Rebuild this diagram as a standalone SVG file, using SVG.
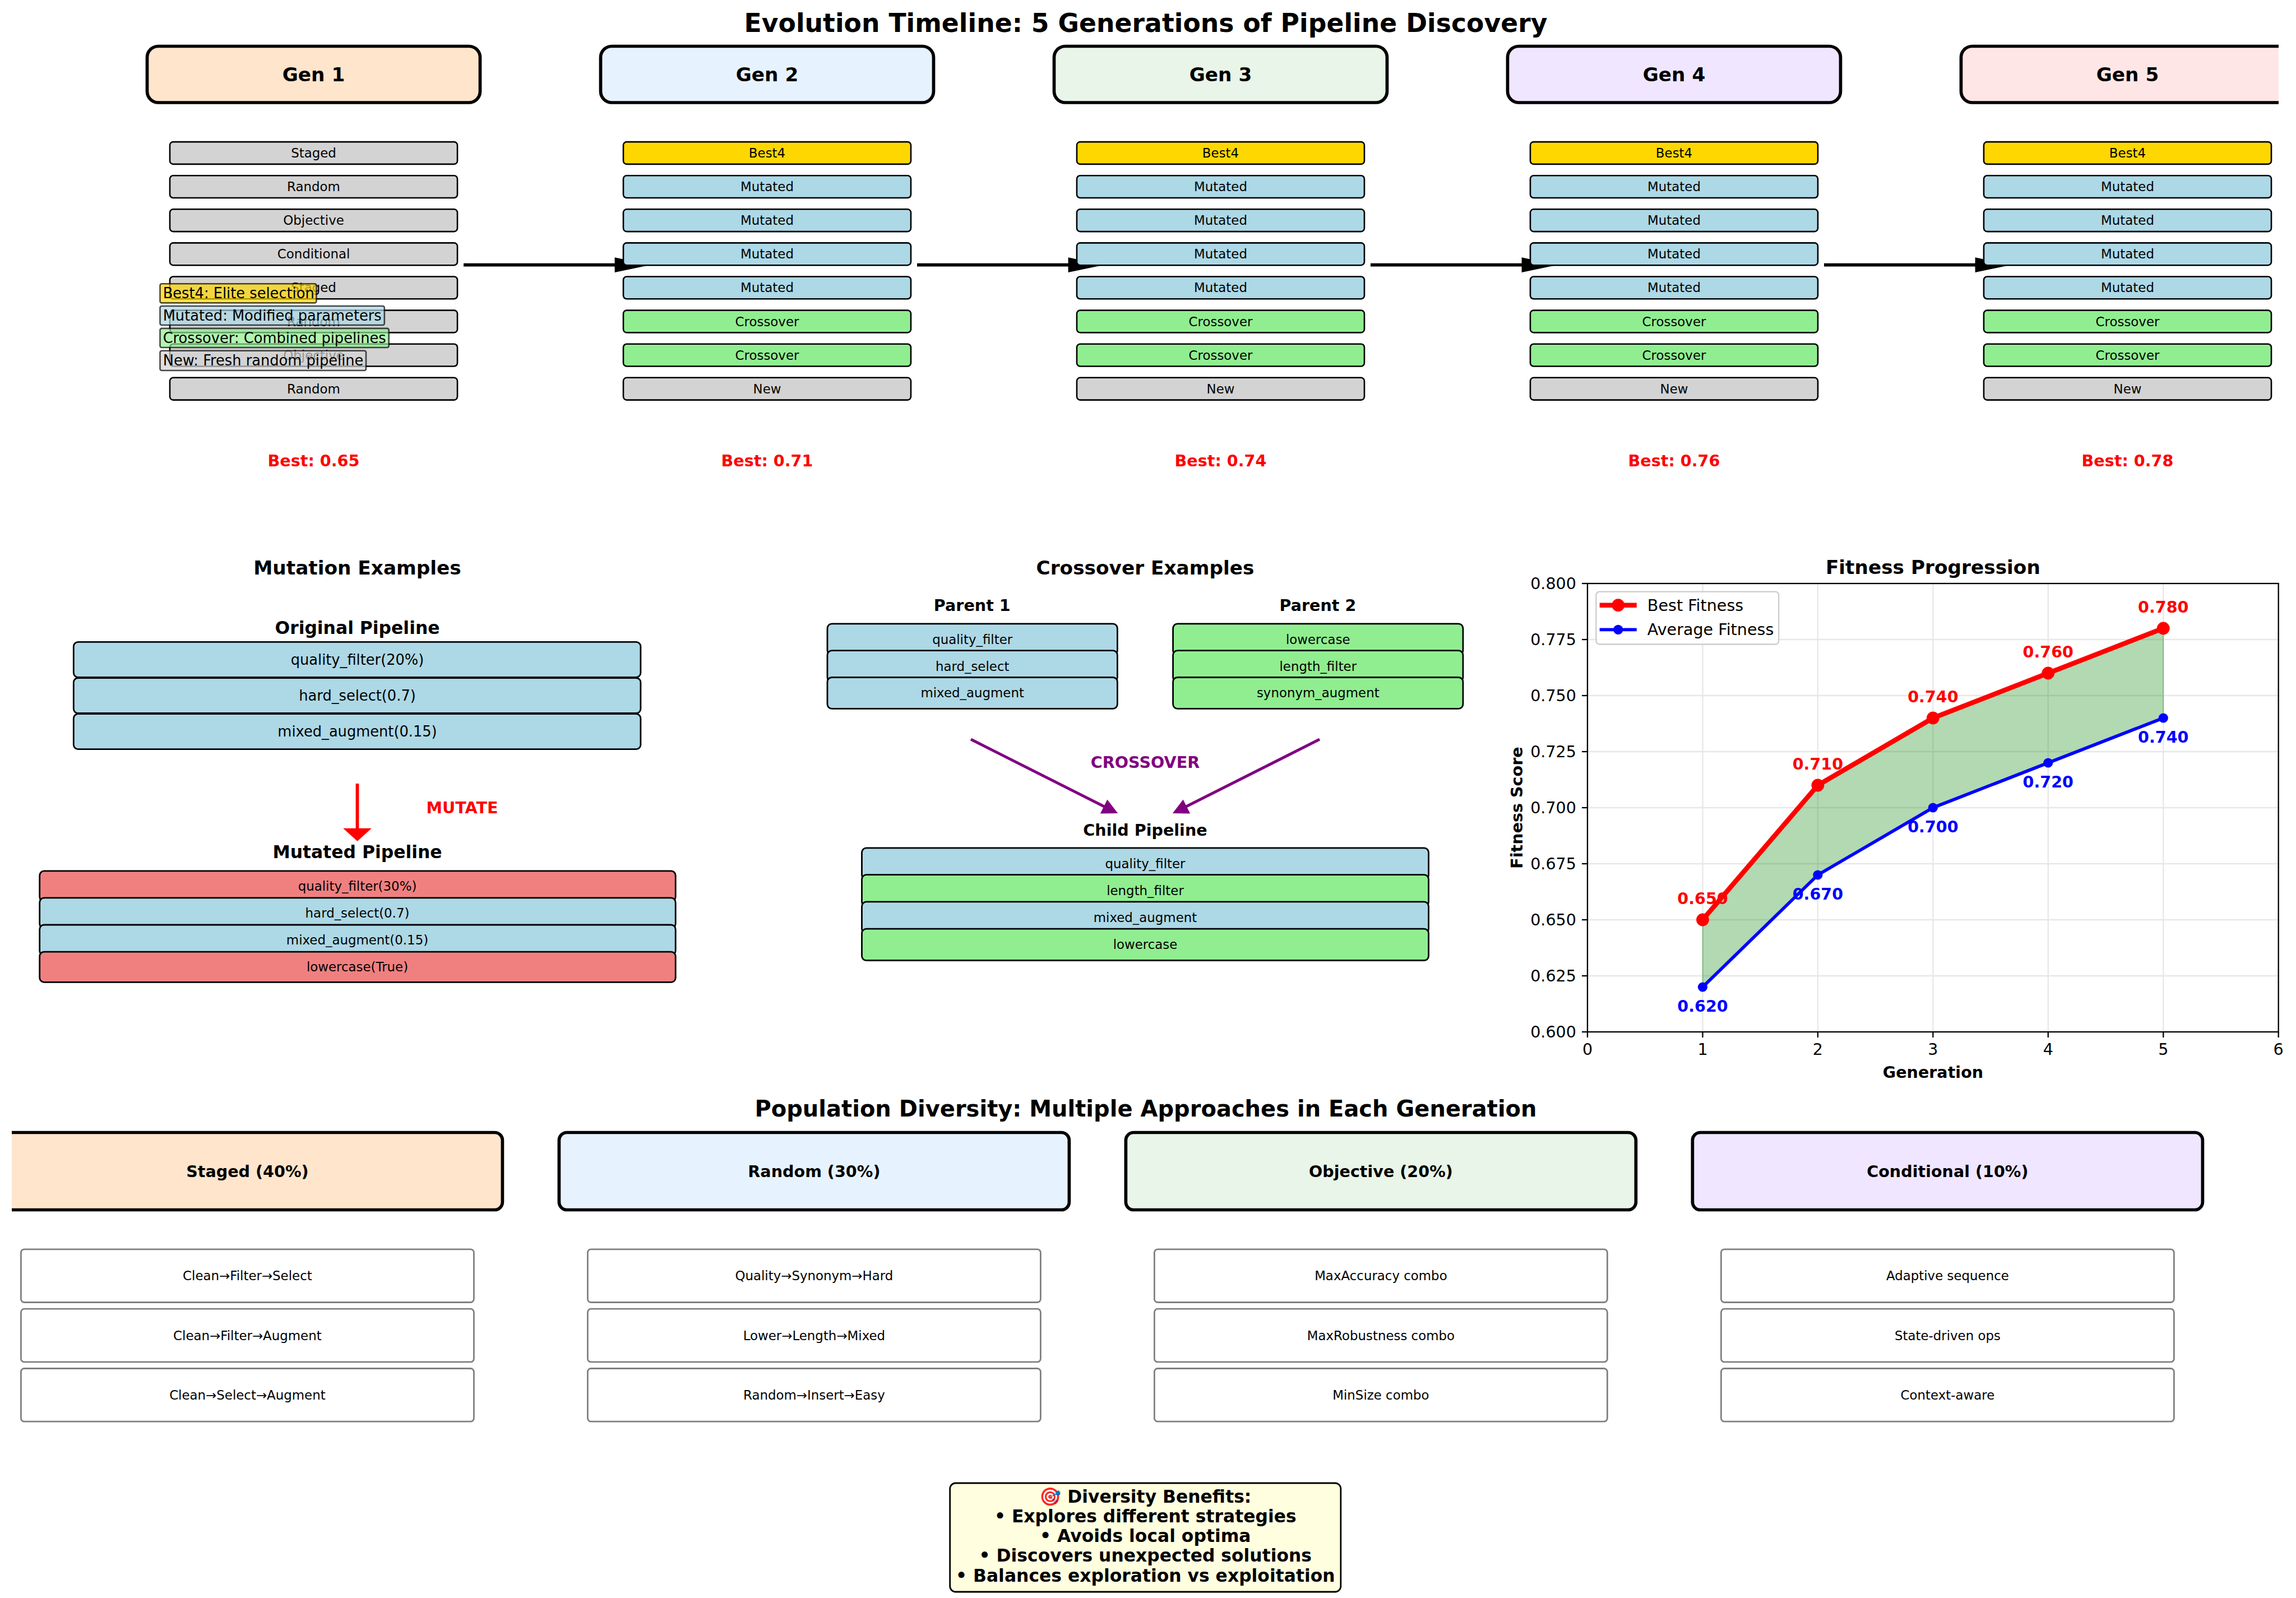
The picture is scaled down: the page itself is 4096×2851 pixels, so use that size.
<svg xmlns="http://www.w3.org/2000/svg" width="4096" height="2851" viewBox="0 0 4096 2851">
<style>
text{font-family:"DejaVu Sans","Liberation Sans",sans-serif;text-anchor:middle}
.c{dominant-baseline:central}
.b{font-weight:bold}
.gen{stroke:#000;stroke-width:5.7}
.it{stroke:#000;stroke-width:2.6}
.pb{stroke:#000;stroke-width:2.8}
.wi{fill:#fff;stroke:#808080;stroke-width:2.8}
.gray{fill:#D3D3D3}.gold{fill:#FFD700}.lb{fill:#ADD8E6}.lg{fill:#90EE90}.lc{fill:#F08080}
.s8{font-size:22.9px}.s9{font-size:25.7px}.s10{font-size:28.6px}.s11{font-size:31.4px}.s12{font-size:34.3px}
.grid{stroke:#e7e7e7;stroke-width:2.3}
</style>
<defs>
<clipPath id="topclip"><rect x="0" y="0" width="4065" height="960"/></clipPath>
<clipPath id="botclip"><rect x="21" y="1940" width="4075" height="911"/></clipPath>
</defs>
<rect width="4096" height="2851" fill="#fff"/>

<text id="main-title" class="b" x="2044" y="57" font-size="45.7">Evolution Timeline: 5 Generations of Pipeline Discovery</text>

<!-- connectors -->
<g id="connectors">
<g id="gen-arrows" fill="#000">
<line x1="827" y1="472.7" x2="1100" y2="472.7" stroke="#000" stroke-width="5.7"/>
<polygon points="1096.6,459.3 1160,472.7 1096.6,486.1"/>
<line x1="1636" y1="472.7" x2="1909" y2="472.7" stroke="#000" stroke-width="5.7"/>
<polygon points="1905.6,459.3 1969,472.7 1905.6,486.1"/>
<line x1="2445" y1="472.7" x2="2718" y2="472.7" stroke="#000" stroke-width="5.7"/>
<polygon points="2714.6,459.3 2778,472.7 2714.6,486.1"/>
<line x1="3254" y1="472.7" x2="3527" y2="472.7" stroke="#000" stroke-width="5.7"/>
<polygon points="3523.6,459.3 3587,472.7 3523.6,486.1"/>
</g>
<g id="mutate-arrow">
<line x1="637.5" y1="1398" x2="637.5" y2="1480" stroke="#FF0000" stroke-width="5.8"/>
<polygon points="612.1,1477.8 662.9,1477.8 637.5,1500.7" fill="#FF0000"/>
</g>
<g id="crossover-arrows" fill="#800080">
<line x1="1732" y1="1319.1" x2="1970" y2="1439" stroke="#800080" stroke-width="5"/>
<polygon points="1994.2,1451 1962.9,1451.4 1975.4,1426.4"/>
<line x1="2354.1" y1="1319.1" x2="2116" y2="1439" stroke="#800080" stroke-width="5"/>
<polygon points="2091.9,1451 2123.2,1451.4 2110.7,1426.4"/>
</g>
</g>

<!-- Generation columns -->
<g clip-path="url(#topclip)">
<g id="gen1">
<rect class="gen" x="262.5" y="82.5" width="594" height="100.5" rx="20" fill="#FFE5CC"/>
<text class="b c" x="559.5" y="132.7" font-size="34.3">Gen 1</text>
<rect class="it gray" x="303" y="253.1" width="513" height="39.8" rx="6"/><text class="c s8" x="559.5" y="273">Staged</text>
<rect class="it gray" x="303" y="313.2" width="513" height="39.8" rx="6"/><text class="c s8" x="559.5" y="333.1">Random</text>
<rect class="it gray" x="303" y="373.3" width="513" height="39.8" rx="6"/><text class="c s8" x="559.5" y="393.2">Objective</text>
<rect class="it gray" x="303" y="433.4" width="513" height="39.8" rx="6"/><text class="c s8" x="559.5" y="453.3">Conditional</text>
<rect class="it gray" x="303" y="493.5" width="513" height="39.8" rx="6"/><text class="c s8" x="559.5" y="513.4">Staged</text>
<rect class="it gray" x="303" y="553.6" width="513" height="39.8" rx="6"/><text class="c s8" x="559.5" y="573.5">Random</text>
<rect class="it gray" x="303" y="613.7" width="513" height="39.8" rx="6"/><text class="c s8" x="559.5" y="633.6">Objective</text>
<rect class="it gray" x="303" y="673.8" width="513" height="39.8" rx="6"/><text class="c s8" x="559.5" y="693.7">Random</text>
<text class="b c s10" x="559.5" y="822" fill="#FF0000">Best: 0.65</text>
</g>
<g id="gen-legend" style="text-anchor:start">
<rect x="285.5" y="506.2" width="278.9" height="34.2" rx="3" fill="#FFD700" fill-opacity="0.7" stroke="#000" stroke-opacity="0.7" stroke-width="2.6"/>
<text class="c s9" x="290.7" y="523.3" style="text-anchor:start">Best4: Elite selection</text>
<rect x="285.5" y="546" width="400.3" height="34" rx="3" fill="#ADD8E6" fill-opacity="0.7" stroke="#000" stroke-opacity="0.7" stroke-width="2.6"/>
<text class="c s9" x="290.7" y="563" style="text-anchor:start">Mutated: Modified parameters</text>
<rect x="285.5" y="585.9" width="408.2" height="34.1" rx="3" fill="#90EE90" fill-opacity="0.7" stroke="#000" stroke-opacity="0.7" stroke-width="2.6"/>
<text class="c s9" x="290.7" y="603" style="text-anchor:start">Crossover: Combined pipelines</text>
<rect x="285.5" y="625.7" width="367.5" height="35.3" rx="3" fill="#D3D3D3" fill-opacity="0.7" stroke="#000" stroke-opacity="0.7" stroke-width="2.6"/>
<text class="c s9" x="290.7" y="643.3" style="text-anchor:start">New: Fresh random pipeline</text>
</g>
<g id="gen2">
<rect class="gen" x="1071.5" y="82.5" width="594" height="100.5" rx="20" fill="#E6F3FF"/>
<text class="b c" x="1368.5" y="132.7" font-size="34.3">Gen 2</text>
<rect class="it gold" x="1112" y="253.1" width="513" height="39.8" rx="6"/><text class="c s8" x="1368.5" y="273">Best4</text>
<rect class="it lb" x="1112" y="313.2" width="513" height="39.8" rx="6"/><text class="c s8" x="1368.5" y="333.1">Mutated</text>
<rect class="it lb" x="1112" y="373.3" width="513" height="39.8" rx="6"/><text class="c s8" x="1368.5" y="393.2">Mutated</text>
<rect class="it lb" x="1112" y="433.4" width="513" height="39.8" rx="6"/><text class="c s8" x="1368.5" y="453.3">Mutated</text>
<rect class="it lb" x="1112" y="493.5" width="513" height="39.8" rx="6"/><text class="c s8" x="1368.5" y="513.4">Mutated</text>
<rect class="it lg" x="1112" y="553.6" width="513" height="39.8" rx="6"/><text class="c s8" x="1368.5" y="573.5">Crossover</text>
<rect class="it lg" x="1112" y="613.7" width="513" height="39.8" rx="6"/><text class="c s8" x="1368.5" y="633.6">Crossover</text>
<rect class="it gray" x="1112" y="673.8" width="513" height="39.8" rx="6"/><text class="c s8" x="1368.5" y="693.7">New</text>
<text class="b c s10" x="1368.5" y="822" fill="#FF0000">Best: 0.71</text>
</g>
<g id="gen3">
<rect class="gen" x="1880.5" y="82.5" width="594" height="100.5" rx="20" fill="#E8F5E8"/>
<text class="b c" x="2177.5" y="132.7" font-size="34.3">Gen 3</text>
<rect class="it gold" x="1921" y="253.1" width="513" height="39.8" rx="6"/><text class="c s8" x="2177.5" y="273">Best4</text>
<rect class="it lb" x="1921" y="313.2" width="513" height="39.8" rx="6"/><text class="c s8" x="2177.5" y="333.1">Mutated</text>
<rect class="it lb" x="1921" y="373.3" width="513" height="39.8" rx="6"/><text class="c s8" x="2177.5" y="393.2">Mutated</text>
<rect class="it lb" x="1921" y="433.4" width="513" height="39.8" rx="6"/><text class="c s8" x="2177.5" y="453.3">Mutated</text>
<rect class="it lb" x="1921" y="493.5" width="513" height="39.8" rx="6"/><text class="c s8" x="2177.5" y="513.4">Mutated</text>
<rect class="it lg" x="1921" y="553.6" width="513" height="39.8" rx="6"/><text class="c s8" x="2177.5" y="573.5">Crossover</text>
<rect class="it lg" x="1921" y="613.7" width="513" height="39.8" rx="6"/><text class="c s8" x="2177.5" y="633.6">Crossover</text>
<rect class="it gray" x="1921" y="673.8" width="513" height="39.8" rx="6"/><text class="c s8" x="2177.5" y="693.7">New</text>
<text class="b c s10" x="2177.5" y="822" fill="#FF0000">Best: 0.74</text>
</g>
<g id="gen4">
<rect class="gen" x="2689.5" y="82.5" width="594" height="100.5" rx="20" fill="#F0E6FF"/>
<text class="b c" x="2986.5" y="132.7" font-size="34.3">Gen 4</text>
<rect class="it gold" x="2730" y="253.1" width="513" height="39.8" rx="6"/><text class="c s8" x="2986.5" y="273">Best4</text>
<rect class="it lb" x="2730" y="313.2" width="513" height="39.8" rx="6"/><text class="c s8" x="2986.5" y="333.1">Mutated</text>
<rect class="it lb" x="2730" y="373.3" width="513" height="39.8" rx="6"/><text class="c s8" x="2986.5" y="393.2">Mutated</text>
<rect class="it lb" x="2730" y="433.4" width="513" height="39.8" rx="6"/><text class="c s8" x="2986.5" y="453.3">Mutated</text>
<rect class="it lb" x="2730" y="493.5" width="513" height="39.8" rx="6"/><text class="c s8" x="2986.5" y="513.4">Mutated</text>
<rect class="it lg" x="2730" y="553.6" width="513" height="39.8" rx="6"/><text class="c s8" x="2986.5" y="573.5">Crossover</text>
<rect class="it lg" x="2730" y="613.7" width="513" height="39.8" rx="6"/><text class="c s8" x="2986.5" y="633.6">Crossover</text>
<rect class="it gray" x="2730" y="673.8" width="513" height="39.8" rx="6"/><text class="c s8" x="2986.5" y="693.7">New</text>
<text class="b c s10" x="2986.5" y="822" fill="#FF0000">Best: 0.76</text>
</g>
<g id="gen5">
<rect class="gen" x="3498.5" y="82.5" width="594" height="100.5" rx="20" fill="#FFE6E6"/>
<text class="b c" x="3795.5" y="132.7" font-size="34.3">Gen 5</text>
<rect class="it gold" x="3539" y="253.1" width="513" height="39.8" rx="6"/><text class="c s8" x="3795.5" y="273">Best4</text>
<rect class="it lb" x="3539" y="313.2" width="513" height="39.8" rx="6"/><text class="c s8" x="3795.5" y="333.1">Mutated</text>
<rect class="it lb" x="3539" y="373.3" width="513" height="39.8" rx="6"/><text class="c s8" x="3795.5" y="393.2">Mutated</text>
<rect class="it lb" x="3539" y="433.4" width="513" height="39.8" rx="6"/><text class="c s8" x="3795.5" y="453.3">Mutated</text>
<rect class="it lb" x="3539" y="493.5" width="513" height="39.8" rx="6"/><text class="c s8" x="3795.5" y="513.4">Mutated</text>
<rect class="it lg" x="3539" y="553.6" width="513" height="39.8" rx="6"/><text class="c s8" x="3795.5" y="573.5">Crossover</text>
<rect class="it lg" x="3539" y="613.7" width="513" height="39.8" rx="6"/><text class="c s8" x="3795.5" y="633.6">Crossover</text>
<rect class="it gray" x="3539" y="673.8" width="513" height="39.8" rx="6"/><text class="c s8" x="3795.5" y="693.7">New</text>
<text class="b c s10" x="3795.5" y="822" fill="#FF0000">Best: 0.78</text>
</g>
</g>

<!-- Mutation examples -->
<g id="mutation">
<text class="b s12" x="637.5" y="1025">Mutation Examples</text>
<text class="b s11" x="637.5" y="1131">Original Pipeline</text>
<rect class="pb lb" x="131.3" y="1145.3" width="1011.6" height="63" rx="8"/><text class="c s9" x="637.5" y="1176.8">quality_filter(20%)</text>
<rect class="pb lb" x="131.3" y="1209.5" width="1011.6" height="63" rx="8"/><text class="c s9" x="637.5" y="1241">hard_select(0.7)</text>
<rect class="pb lb" x="131.3" y="1273.7" width="1011.6" height="63" rx="8"/><text class="c s9" x="637.5" y="1305.2">mixed_augment(0.15)</text>
<text class="b c s10" x="824.5" y="1440.6" fill="#FF0000">MUTATE</text>
<text class="b s11" x="637.5" y="1530.8">Mutated Pipeline</text>
<rect class="pb lc" x="70.7" y="1553.8" width="1134.5" height="54.2" rx="8"/><text class="c s8" x="637.5" y="1580.9">quality_filter(30%)</text>
<rect class="pb lb" x="70.7" y="1601.9" width="1134.5" height="54.2" rx="8"/><text class="c s8" x="637.5" y="1629">hard_select(0.7)</text>
<rect class="pb lb" x="70.7" y="1650" width="1134.5" height="54.2" rx="8"/><text class="c s8" x="637.5" y="1677.1">mixed_augment(0.15)</text>
<rect class="pb lc" x="70.7" y="1698.2" width="1134.5" height="54.2" rx="8"/><text class="c s8" x="637.5" y="1725.3">lowercase(True)</text>
</g>

<!-- Crossover examples -->
<g id="crossover">
<text class="b s12" x="2043" y="1024.8">Crossover Examples</text>
<text class="b s10" x="1734.3" y="1090.2">Parent 1</text>
<text class="b s10" x="2350.9" y="1090.2">Parent 2</text>
<rect class="pb lb" x="1476" y="1112.8" width="517.4" height="55.8" rx="8"/><text class="c s8" x="1734.7" y="1140.7">quality_filter</text>
<rect class="pb lb" x="1476" y="1160.6" width="517.4" height="55.8" rx="8"/><text class="c s8" x="1734.7" y="1188.5">hard_select</text>
<rect class="pb lb" x="1476" y="1208.5" width="517.4" height="55.8" rx="8"/><text class="c s8" x="1734.7" y="1236.4">mixed_augment</text>
<rect class="pb lg" x="2092.6" y="1112.8" width="517.4" height="55.8" rx="8"/><text class="c s8" x="2351.3" y="1140.7">lowercase</text>
<rect class="pb lg" x="2092.6" y="1160.6" width="517.4" height="55.8" rx="8"/><text class="c s8" x="2351.3" y="1188.5">length_filter</text>
<rect class="pb lg" x="2092.6" y="1208.5" width="517.4" height="55.8" rx="8"/><text class="c s8" x="2351.3" y="1236.4">synonym_augment</text>
<text class="b c s10" x="2043" y="1360" fill="#800080">CROSSOVER</text>
<text class="b s10" x="2043" y="1491.2">Child Pipeline</text>
<rect class="pb lb" x="1537.5" y="1512.8" width="1011.1" height="56.3" rx="8"/><text class="c s8" x="2043" y="1541">quality_filter</text>
<rect class="pb lg" x="1537.5" y="1560.6" width="1011.1" height="56.3" rx="8"/><text class="c s8" x="2043" y="1588.8">length_filter</text>
<rect class="pb lb" x="1537.5" y="1608.9" width="1011.1" height="56.3" rx="8"/><text class="c s8" x="2043" y="1637">mixed_augment</text>
<rect class="pb lg" x="1537.5" y="1657.2" width="1011.1" height="56.3" rx="8"/><text class="c s8" x="2043" y="1685.3">lowercase</text>
</g>

<!-- Fitness chart -->
<g id="fitness-chart">
<text class="b s12" x="3448.4" y="1023.8">Fitness Progression</text>
<g id="grid">
<line class="grid" x1="3037.5" y1="1041" x2="3037.5" y2="1841"/>
<line class="grid" x1="3242.9" y1="1041" x2="3242.9" y2="1841"/>
<line class="grid" x1="3448.4" y1="1041" x2="3448.4" y2="1841"/>
<line class="grid" x1="3653.8" y1="1041" x2="3653.8" y2="1841"/>
<line class="grid" x1="3859.3" y1="1041" x2="3859.3" y2="1841"/>
<line class="grid" x1="2832" y1="1141" x2="4064.7" y2="1141"/>
<line class="grid" x1="2832" y1="1241" x2="4064.7" y2="1241"/>
<line class="grid" x1="2832" y1="1341" x2="4064.7" y2="1341"/>
<line class="grid" x1="2832" y1="1441" x2="4064.7" y2="1441"/>
<line class="grid" x1="2832" y1="1541" x2="4064.7" y2="1541"/>
<line class="grid" x1="2832" y1="1641" x2="4064.7" y2="1641"/>
<line class="grid" x1="2832" y1="1741" x2="4064.7" y2="1741"/>
</g>
<polygon points="3037.5,1641 3242.9,1401 3448.4,1281 3653.8,1201 3859.3,1121 3859.3,1281 3653.8,1361 3448.4,1441 3242.9,1561 3037.5,1761" fill="#008000" fill-opacity="0.3" stroke="#008000" stroke-opacity="0.3" stroke-width="2"/>
<g class="b s10" fill="#FF0000">
<text x="3037.5" y="1612.5">0.650</text>
<text x="3242.9" y="1372.5">0.710</text>
<text x="3448.4" y="1252.5">0.740</text>
<text x="3653.8" y="1172.5">0.760</text>
<text x="3859.3" y="1092.5">0.780</text>
</g>
<g class="b s10" fill="#0000FF">
<text x="3037.5" y="1805">0.620</text>
<text x="3242.9" y="1605">0.670</text>
<text x="3448.4" y="1485">0.700</text>
<text x="3653.8" y="1405">0.720</text>
<text x="3859.3" y="1325">0.740</text>
</g>
<polyline points="3037.5,1641 3242.9,1401 3448.4,1281 3653.8,1201 3859.3,1121" fill="none" stroke="#FF0000" stroke-width="8.6" stroke-linejoin="round"/>
<g fill="#FF0000">
<circle cx="3037.5" cy="1641" r="11.4"/><circle cx="3242.9" cy="1401" r="11.4"/><circle cx="3448.4" cy="1281" r="11.4"/><circle cx="3653.8" cy="1201" r="11.4"/><circle cx="3859.3" cy="1121" r="11.4"/>
</g>
<polyline points="3037.5,1761 3242.9,1561 3448.4,1441 3653.8,1361 3859.3,1281" fill="none" stroke="#0000FF" stroke-width="5.7" stroke-linejoin="round"/>
<g fill="#0000FF">
<circle cx="3037.5" cy="1761" r="8.6"/><circle cx="3242.9" cy="1561" r="8.6"/><circle cx="3448.4" cy="1441" r="8.6"/><circle cx="3653.8" cy="1361" r="8.6"/><circle cx="3859.3" cy="1281" r="8.6"/>
</g>
<rect x="2832" y="1041" width="1232.7" height="800" fill="none" stroke="#000" stroke-width="2.3"/>
<g stroke="#000" stroke-width="2.3">
<line x1="2822" y1="1041" x2="2832" y2="1041"/><line x1="2822" y1="1141" x2="2832" y2="1141"/><line x1="2822" y1="1241" x2="2832" y2="1241"/><line x1="2822" y1="1341" x2="2832" y2="1341"/><line x1="2822" y1="1441" x2="2832" y2="1441"/><line x1="2822" y1="1541" x2="2832" y2="1541"/><line x1="2822" y1="1641" x2="2832" y2="1641"/><line x1="2822" y1="1741" x2="2832" y2="1741"/><line x1="2822" y1="1841" x2="2832" y2="1841"/>
<line x1="2832" y1="1841" x2="2832" y2="1851"/><line x1="3037.5" y1="1841" x2="3037.5" y2="1851"/><line x1="3242.9" y1="1841" x2="3242.9" y2="1851"/><line x1="3448.4" y1="1841" x2="3448.4" y2="1851"/><line x1="3653.8" y1="1841" x2="3653.8" y2="1851"/><line x1="3859.3" y1="1841" x2="3859.3" y2="1851"/><line x1="4064.7" y1="1841" x2="4064.7" y2="1851"/>
</g>
<g class="c s10" style="text-anchor:end">
<text x="2812" y="1041" style="text-anchor:end">0.800</text>
<text x="2812" y="1141" style="text-anchor:end">0.775</text>
<text x="2812" y="1241" style="text-anchor:end">0.750</text>
<text x="2812" y="1341" style="text-anchor:end">0.725</text>
<text x="2812" y="1441" style="text-anchor:end">0.700</text>
<text x="2812" y="1541" style="text-anchor:end">0.675</text>
<text x="2812" y="1641" style="text-anchor:end">0.650</text>
<text x="2812" y="1741" style="text-anchor:end">0.625</text>
<text x="2812" y="1841" style="text-anchor:end">0.600</text>
</g>
<g class="s10">
<text x="2832" y="1882">0</text><text x="3037.5" y="1882">1</text><text x="3242.9" y="1882">2</text><text x="3448.4" y="1882">3</text><text x="3653.8" y="1882">4</text><text x="3859.3" y="1882">5</text><text x="4064.7" y="1882">6</text>
</g>
<text class="b s10" x="3448.4" y="1923.4">Generation</text>
<text class="b s10" transform="translate(2716,1441) rotate(-90)">Fitness Score</text>
<g id="chart-legend">
<rect x="2847.4" y="1055.6" width="325.8" height="93.9" rx="6" fill="#fff" fill-opacity="0.8" stroke="#cccccc" stroke-width="2.3"/>
<line x1="2853.7" y1="1079.7" x2="2919.8" y2="1079.7" stroke="#FF0000" stroke-width="8.6"/>
<circle cx="2886.8" cy="1079.7" r="11.4" fill="#FF0000"/>
<text class="c s10" x="2938.8" y="1079.7" style="text-anchor:start">Best Fitness</text>
<line x1="2853.7" y1="1123.4" x2="2919.8" y2="1123.4" stroke="#0000FF" stroke-width="5.7"/>
<circle cx="2886.8" cy="1123.4" r="8.6" fill="#0000FF"/>
<text class="c s10" x="2938.8" y="1123.4" style="text-anchor:start">Average Fitness</text>
</g>
</g>

<!-- Population diversity -->
<text id="diversity-title" class="b" x="2044" y="1992.3" font-size="40">Population Diversity: Multiple Approaches in Each Generation</text>
<g clip-path="url(#botclip)">
<g id="cat-staged">
<rect class="gen" x="-13.6" y="2020.5" width="910" height="138" rx="14" fill="#FFE5CC"/>
<text class="b c s10" x="441.4" y="2089.5">Staged (40%)</text>
<rect class="wi" x="37.4" y="2228.8" width="808" height="94.7" rx="6"/><text class="c s8" x="441.4" y="2276.1">Clean→Filter→Select</text>
<rect class="wi" x="37.4" y="2335.2" width="808" height="94.7" rx="6"/><text class="c s8" x="441.4" y="2382.5">Clean→Filter→Augment</text>
<rect class="wi" x="37.4" y="2441.5" width="808" height="94.7" rx="6"/><text class="c s8" x="441.4" y="2488.8">Clean→Select→Augment</text>
</g>
</g>
<g id="cat-random">
<rect class="gen" x="997.4" y="2020.5" width="910" height="138" rx="14" fill="#E6F3FF"/>
<text class="b c s10" x="1452.4" y="2089.5">Random (30%)</text>
<rect class="wi" x="1048.4" y="2228.8" width="808" height="94.7" rx="6"/><text class="c s8" x="1452.4" y="2276.1">Quality→Synonym→Hard</text>
<rect class="wi" x="1048.4" y="2335.2" width="808" height="94.7" rx="6"/><text class="c s8" x="1452.4" y="2382.5">Lower→Length→Mixed</text>
<rect class="wi" x="1048.4" y="2441.5" width="808" height="94.7" rx="6"/><text class="c s8" x="1452.4" y="2488.8">Random→Insert→Easy</text>
</g>
<g id="cat-objective">
<rect class="gen" x="2008.4" y="2020.5" width="910" height="138" rx="14" fill="#E8F5E8"/>
<text class="b c s10" x="2463.4" y="2089.5">Objective (20%)</text>
<rect class="wi" x="2059.4" y="2228.8" width="808" height="94.7" rx="6"/><text class="c s8" x="2463.4" y="2276.1">MaxAccuracy combo</text>
<rect class="wi" x="2059.4" y="2335.2" width="808" height="94.7" rx="6"/><text class="c s8" x="2463.4" y="2382.5">MaxRobustness combo</text>
<rect class="wi" x="2059.4" y="2441.5" width="808" height="94.7" rx="6"/><text class="c s8" x="2463.4" y="2488.8">MinSize combo</text>
</g>
<g id="cat-conditional">
<rect class="gen" x="3019.4" y="2020.5" width="910" height="138" rx="14" fill="#F0E6FF"/>
<text class="b c s10" x="3474.4" y="2089.5">Conditional (10%)</text>
<rect class="wi" x="3070.4" y="2228.8" width="808" height="94.7" rx="6"/><text class="c s8" x="3474.4" y="2276.1">Adaptive sequence</text>
<rect class="wi" x="3070.4" y="2335.2" width="808" height="94.7" rx="6"/><text class="c s8" x="3474.4" y="2382.5">State-driven ops</text>
<rect class="wi" x="3070.4" y="2441.5" width="808" height="94.7" rx="6"/><text class="c s8" x="3474.4" y="2488.8">Context-aware</text>
</g>

<g id="diversity-benefits">
<rect x="1694.7" y="2646" width="697.2" height="194" rx="10" fill="#FFFFE0" stroke="#000" stroke-width="2.8"/>
<g class="b s11">
<text x="2043.3" y="2681.1">🎯 Diversity Benefits:</text>
<text x="2043.3" y="2716.1">• Explores different strategies</text>
<text x="2043.3" y="2751.3">• Avoids local optima</text>
<text x="2043.3" y="2786.3">• Discovers unexpected solutions</text>
<text x="2043.3" y="2821.8">• Balances exploration vs exploitation</text>
</g>
</g>
</svg>
